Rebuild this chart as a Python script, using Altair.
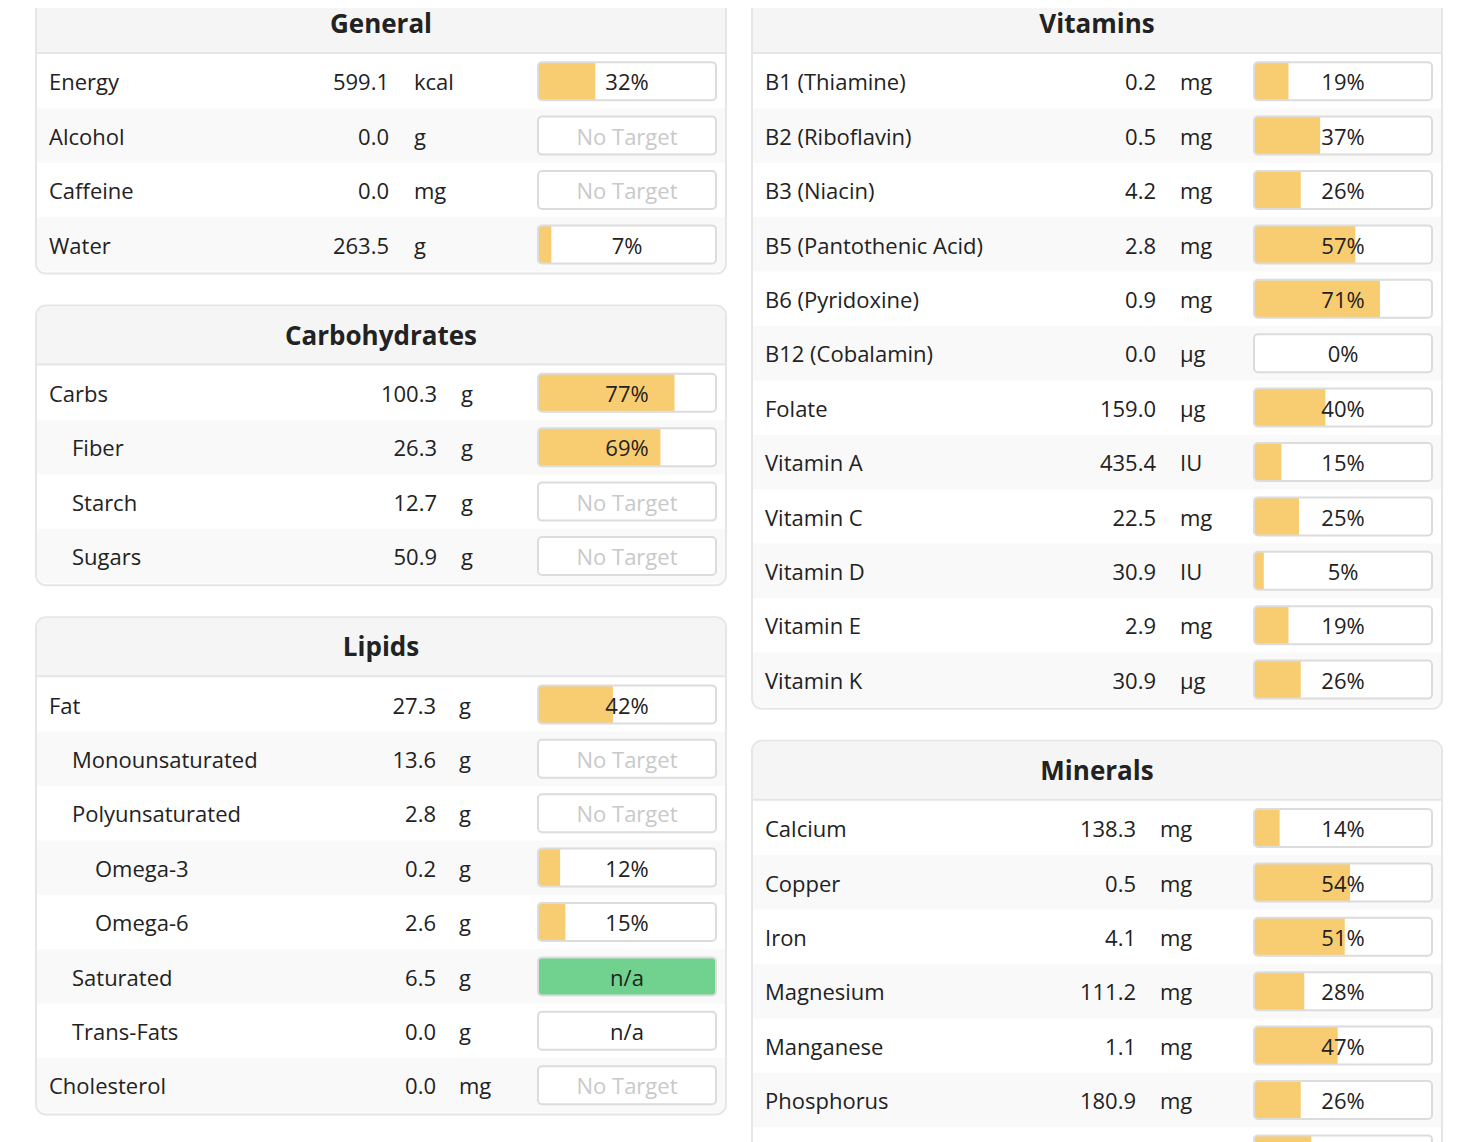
import altair as alt
import pandas as pd

# ---------------- data ----------------
general_names = ["Energy", "Alcohol", "Caffeine", "Water"]
general_amounts = [599.1, 0.0, 0.0, 263.5]
general_units = ["kcal", "g", "mg", "g"]
general_pct = [32, None, None, 7]
general_indent = [0, 0, 0, 0]

carb_names = ["Carbs", "Fiber", "Starch", "Sugars"]
carb_amounts = [100.3, 26.3, 12.7, 50.9]
carb_units = ["g", "g", "g", "g"]
carb_pct = [77, 69, None, None]
carb_indent = [0, 1, 1, 1]

lipid_names = ["Fat", "Monounsaturated", "Polyunsaturated", "Omega-3", "Omega-6",
               "Saturated", "Trans-Fats", "Cholesterol"]
lipid_amounts = [27.3, 13.6, 2.8, 0.2, 2.6, 6.5, 0.0, 0.0]
lipid_units = ["g", "g", "g", "g", "g", "g", "g", "mg"]
lipid_pct = [42, None, None, 12, 15, "n/a ok", "n/a", None]
lipid_indent = [0, 1, 1, 2, 2, 1, 1, 0]

vit_names = ["B1 (Thiamine)", "B2 (Riboflavin)", "B3 (Niacin)", "B5 (Pantothenic Acid)",
             "B6 (Pyridoxine)", "B12 (Cobalamin)", "Folate", "Vitamin A", "Vitamin C",
             "Vitamin D", "Vitamin E", "Vitamin K"]
vit_amounts = [0.2, 0.5, 4.2, 2.8, 0.9, 0.0, 159.0, 435.4, 22.5, 30.9, 2.9, 30.9]
vit_units = ["mg", "mg", "mg", "mg", "mg", "µg", "µg", "IU", "mg", "IU", "mg", "µg"]
vit_pct = [19, 37, 26, 57, 71, 0, 40, 15, 25, 5, 19, 26]
vit_indent = [0] * 12

min_names = ["Calcium", "Copper", "Iron", "Magnesium", "Manganese", "Phosphorus", "Potassium"]
min_amounts = [138.3, 0.5, 4.1, 111.2, 1.1, 180.9, 1088.0]
min_units = ["mg", "mg", "mg", "mg", "mg", "mg", "mg"]
min_pct = [14, 54, 51, 28, 47, 26, 32]
min_indent = [0] * 7

# ---------------- layout ----------------
ROW_H = 54.4
HEAD_H = 60
GAP = 32
PANEL_W = 690
TRACK_OFF = 502
TRACK_W = 178
FILL_W = 176

panel_specs = [
    # title, names, amounts, units, pct, indent, column x0, value offset, unit offset
    ("General", general_names, general_amounts, general_units, general_pct, general_indent, 36, 353, 378),
    ("Carbohydrates", carb_names, carb_amounts, carb_units, carb_pct, carb_indent, 36, 401, 425),
    ("Lipids", lipid_names, lipid_amounts, lipid_units, lipid_pct, lipid_indent, 36, 400, 423),
    ("Vitamins", vit_names, vit_amounts, vit_units, vit_pct, vit_indent, 752, 404, 428),
    ("Minerals", min_names, min_amounts, min_units, min_pct, min_indent, 752, 384, 408),
]

panel_rows = []
item_rows = []
col_top = {36: -6.0, 752: -6.0}
for title, names, amounts, units, pcts, indents, x0, voff, uoff in panel_specs:
    top = col_top[x0]
    n = len(names)
    head_line = top + HEAD_H - 1
    bottom = top + HEAD_H + n * ROW_H + 2
    col_top[x0] = bottom + GAP
    panel_rows.append(dict(title=title, x0=x0, x1=x0 + PANEL_W, top=top, bottom=bottom,
                           hx0=x0 + 1, hx1=x0 + PANEL_W - 1, htop=top + 1, hline=head_line,
                           cx=x0 + PANEL_W / 2, hcy=top + 31))
    for i in range(n):
        rtop = top + HEAD_H + i * ROW_H
        p = pcts[i]
        if p is None:
            status, label, pnum = "none", "No Target", None
        elif p == "n/a ok":
            status, label, pnum = "ok", "n/a", None
        elif p == "n/a":
            status, label, pnum = "na", "n/a", None
        else:
            status, label, pnum = "pct", f"{p}%", float(p)
        cy = rtop + ROW_H / 2
        item_rows.append(dict(
            panel=title, name=names[i], amount=f"{amounts[i]:.1f}", unit=units[i],
            pct=pnum, status=status, label=label,
            rx0=x0 + 1, rx1=x0 + PANEL_W - 1, rtop=rtop, rbot=rtop + ROW_H,
            gray=(i % 2 == 1), last=(i == n - 1), cy=cy, ty=cy + 2.2,
            name_x=x0 + 13 + 23 * indents[i], value_x=x0 + voff, unit_x=x0 + uoff,
            tx0=x0 + TRACK_OFF, tx1=x0 + TRACK_OFF + TRACK_W, tcx=x0 + TRACK_OFF + TRACK_W / 2,
            ttop=cy - 19, tbot=cy + 19, fx0=x0 + TRACK_OFF + 1,
        ))

panels = pd.DataFrame(panel_rows)
items = pd.DataFrame(item_rows)

xs = alt.Scale(domain=[8, 1450], nice=False, zero=False)
ys = alt.Scale(domain=[8, 1142], nice=False, zero=False, reverse=True)


def X(f):
    return alt.X(f"{f}:Q", scale=xs, axis=None)


def Y(f):
    return alt.Y(f"{f}:Q", scale=ys, axis=None)


FONT = "Open Sans"
TXT = "#222222"
FS = 22

panel_box = alt.Chart(panels).mark_rect(
    fill="white", stroke="#e6e6e6", strokeWidth=2, cornerRadius=10, clip=True
).encode(x=X("x0"), x2="x1", y=Y("top"), y2="bottom")

header_bg = alt.Chart(panels).mark_rect(
    fill="#f5f5f5", cornerRadiusTopLeft=9, cornerRadiusTopRight=9, clip=True
).encode(x=X("hx0"), x2="hx1", y=Y("htop"), y2="hline")

header_line = alt.Chart(panels).mark_rule(
    stroke="#e3e6e9", strokeWidth=2, clip=True
).encode(x=X("hx0"), x2="hx1", y=Y("hline"))

header_text = alt.Chart(panels).mark_text(
    font=FONT, fontSize=26, fontWeight="bold", color=TXT, align="center",
    baseline="middle"
).encode(x=X("cx"), y=Y("hcy"), text="title:N")

gray_rows = alt.Chart(items).transform_filter(
    "datum.gray && !datum.last"
).mark_rect(fill="#f9f9f9", clip=True).encode(x=X("rx0"), x2="rx1", y=Y("rtop"), y2="rbot")

gray_last = alt.Chart(items).transform_filter(
    "datum.gray && datum.last"
).mark_rect(fill="#f9f9f9", cornerRadiusBottomLeft=9, cornerRadiusBottomRight=9,
            clip=True).encode(x=X("rx0"), x2="rx1", y=Y("rtop"), y2="rbot")

name_text = alt.Chart(items).mark_text(
    font=FONT, fontSize=FS, color=TXT, align="left", baseline="middle", clip=True
).encode(x=X("name_x"), y=Y("ty"), text="name:N")

value_text = alt.Chart(items).mark_text(
    font=FONT, fontSize=FS, color=TXT, align="right", baseline="middle", clip=True
).encode(x=X("value_x"), y=Y("ty"), text="amount:N")

unit_text = alt.Chart(items).mark_text(
    font=FONT, fontSize=FS, color=TXT, align="left", baseline="middle", clip=True
).encode(x=X("unit_x"), y=Y("ty"), text="unit:N")

track_bg = alt.Chart(items).mark_rect(cornerRadius=4, clip=True).encode(
    x=X("tx0"), x2="tx1", y=Y("ttop"), y2="tbot",
    color=alt.condition("datum.status == 'ok'", alt.value("#70d28e"), alt.value("white")),
)

fill_bar = alt.Chart(items).transform_filter(
    "datum.status == 'pct' && datum.pct > 0"
).transform_calculate(
    fx1=f"datum.fx0 + min(datum.pct, 100) / 100 * {FILL_W}"
).mark_rect(fill="#f8cd71", cornerRadiusTopLeft=3, cornerRadiusBottomLeft=3, clip=True).encode(
    x=X("fx0"), x2="fx1:Q", y=Y("ttop"), y2="tbot"
)

track_border = alt.Chart(items).mark_rect(
    fill=None, fillOpacity=0, stroke="#dcdcdc", strokeWidth=2, cornerRadius=4, clip=True
).encode(x=X("tx0"), x2="tx1", y=Y("ttop"), y2="tbot")

pct_text = alt.Chart(items).mark_text(
    font=FONT, fontSize=FS, align="center", baseline="middle", clip=True
).encode(
    x=X("tcx"), y=Y("ty"), text="label:N",
    color=alt.condition("datum.status == 'none'", alt.value("#c9c9c9"), alt.value(TXT)),
)

chart = alt.layer(
    panel_box, header_bg, gray_rows, gray_last, header_line, header_text,
    name_text, value_text, unit_text, track_bg, fill_bar, track_border, pct_text
).properties(
    width=1442, height=1134, padding=0, autosize=alt.AutoSizeParams(type="none")
).configure_view(stroke=None)

chart.save("out.html", embed_options={"renderer": "svg", "actions": False})
